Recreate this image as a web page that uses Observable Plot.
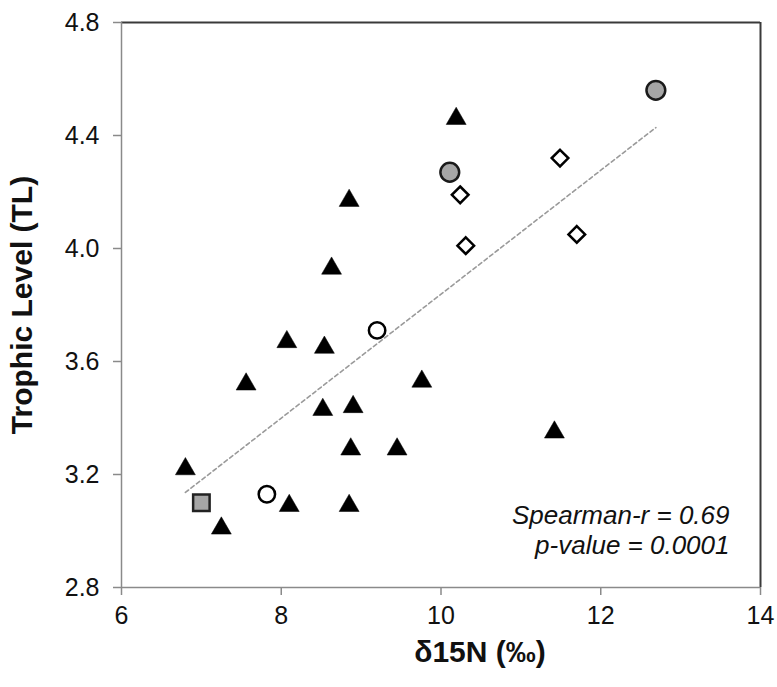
<!DOCTYPE html>
<html>
<head>
<meta charset="utf-8">
<script src="https://cdn.jsdelivr.net/npm/d3@7"></script>
<script src="https://cdn.jsdelivr.net/npm/@observablehq/plot@0.6"></script>
<style>
  html, body { margin: 0; padding: 0; background: #fff; }
  #chart svg { display: block; font-family: "Liberation Sans", Arial, sans-serif; }
</style>
</head>
<body>
<div id="chart"></div>
<script>
// ---- data (δ15N ‰, trophic level) ----
const triangleN  = [6.80, 7.25, 7.56, 8.07, 8.10, 8.54, 8.52, 8.90, 8.87, 9.45, 8.85, 8.63, 8.85, 10.19, 9.76, 11.42];
const triangleTL = [3.23, 3.02, 3.53, 3.68, 3.10, 3.66, 3.44, 3.45, 3.30, 3.30, 3.10, 3.94, 4.18, 4.47, 3.54, 3.36];
const openCircleN  = [7.82, 9.20];
const openCircleTL = [3.13, 3.71];
const grayCircleN  = [10.11, 12.69];
const grayCircleTL = [4.27, 4.56];
const diamondN  = [10.24, 10.31, 11.49, 11.70];
const diamondTL = [4.19, 4.01, 4.32, 4.05];
const squareN  = [7.00];
const squareTL = [3.10];

const xDomain = [6, 14];
const yDomain = [2.8, 4.8];
const xTicks = [6, 8, 10, 12, 14];
const yTicks = [2.8, 3.2, 3.6, 4.0, 4.4, 4.8];
const xTitle = "δ15N (‰)";
const yTitle = "Trophic Level (TL)";
const statLines = ["Spearman-r = 0.69", "p-value = 0.0001"];

const pts = (xs, ys) => xs.map((x, i) => ({x, y: ys[i]}));
const triangles = pts(triangleN, triangleTL);
const openCircles = pts(openCircleN, openCircleTL);
const grayCircles = pts(grayCircleN, grayCircleTL);
const diamonds = pts(diamondN, diamondTL);
const squares = pts(squareN, squareTL);
const all = [...triangles, ...openCircles, ...grayCircles, ...diamonds, ...squares];

const axisGray = "#8a8a8a";
const dark = "#3a3a3a";
const grayFill = "#a6a6a6";

const chart = Plot.plot({
  width: 777,
  height: 687,
  marginLeft: 121,
  marginRight: 17,
  marginTop: 22,
  marginBottom: 100,
  x: {domain: xDomain},
  y: {domain: yDomain},
  marks: [
    // frame
    Plot.ruleY([yDomain[1]], {stroke: dark, strokeWidth: 2}),
    Plot.ruleX([xDomain[1]], {stroke: dark, strokeWidth: 2}),
    Plot.ruleX([xDomain[0]], {stroke: axisGray, strokeWidth: 1.5}),
    Plot.ruleY([yDomain[0]], {stroke: axisGray, strokeWidth: 1.5}),
    // axes
    Plot.axisX(xTicks, {anchor: "bottom", tickSize: 8, tickPadding: 11, fontSize: 25, stroke: axisGray, strokeWidth: 1.5, fill: "#111", label: null}),
    Plot.axisY(yTicks, {anchor: "left", tickSize: 8, tickPadding: 14, fontSize: 25, stroke: axisGray, strokeWidth: 1.5, fill: "#111", tickFormat: d3.format(".1f"), label: null}),
    // trend line
    Plot.linearRegressionY(all, {x: "x", y: "y", ci: 0, stroke: "#9a9a9a", strokeWidth: 1.6, strokeDasharray: "4 3"}),
    // points
    Plot.dot(triangles, {x: "x", y: "y", symbol: "triangle", r: 7.4, dy: 3, fill: "#000", stroke: "#000", strokeWidth: 0.5}),
    Plot.dot(openCircles, {x: "x", y: "y", symbol: "circle", r: 8.2, fill: "#fff", stroke: "#000", strokeWidth: 2.5}),
    Plot.dot(grayCircles, {x: "x", y: "y", symbol: "circle", r: 9.4, fill: grayFill, stroke: "#1a1a1a", strokeWidth: 2.5}),
    Plot.dot(diamonds, {x: "x", y: "y", symbol: "diamond2", r: 7.5, fill: "#fff", stroke: "#000", strokeWidth: 2.5}),
    Plot.dot(squares, {x: "x", y: "y", symbol: "square", r: 9.3, fill: grayFill, stroke: "#222", strokeWidth: 2.5}),
    // stats annotation
    Plot.text([statLines[0]], {frameAnchor: "bottom-right", text: d => d, dx: -31, dy: -64, fontSize: 26, fontStyle: "italic", fill: "#111", textAnchor: "end"}),
    Plot.text([statLines[1]], {frameAnchor: "bottom-right", text: d => d, dx: -31, dy: -34, fontSize: 26, fontStyle: "italic", fill: "#111", textAnchor: "end"}),
    // titles
    Plot.text([xTitle], {frameAnchor: "bottom", text: d => d, dx: 39, dy: 74, fontSize: 30, fontWeight: "bold", fill: "#111"}),
    Plot.text([yTitle], {frameAnchor: "left", text: d => d, dx: -99, dy: 0, rotate: -90, textAnchor: "middle", fontSize: 30, fontWeight: "bold", fill: "#111"})
  ]
});
document.getElementById("chart").appendChild(chart);
</script>
</body>
</html>
